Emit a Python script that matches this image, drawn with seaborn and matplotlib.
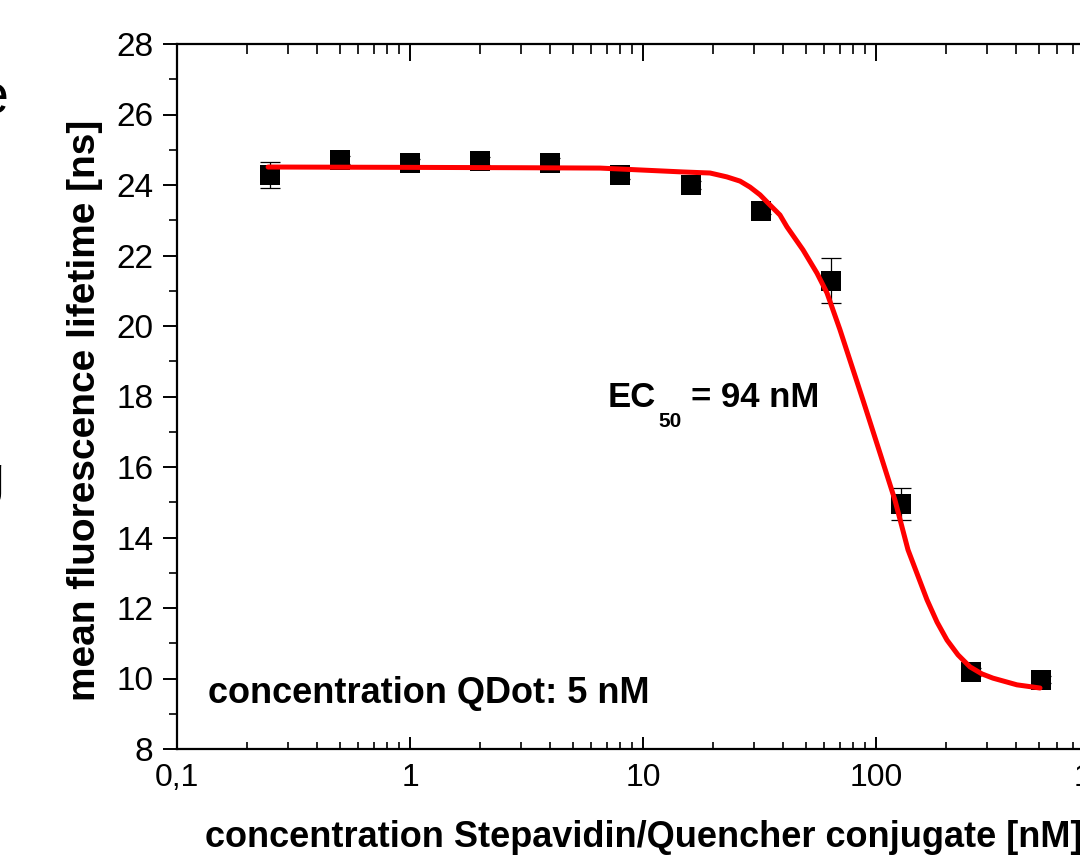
import numpy as np
import pandas as pd
import matplotlib
matplotlib.use("Agg")
import matplotlib.pyplot as plt
import seaborn as sns
from matplotlib.ticker import FixedLocator, FixedFormatter, LogLocator, NullFormatter, MultipleLocator

# measured points (concentration in nM, lifetime in ns)
conc = [0.25, 0.5, 1, 2, 4, 8, 16, 32, 64, 128, 256, 512]
lifetime = [24.28, 24.71, 24.63, 24.68, 24.61, 24.28, 24.0, 23.27, 21.28, 14.96, 10.19, 9.96]
lifetime_err = [0.37, 0.12, 0.12, 0.12, 0.15, 0.12, 0.1, 0.1, 0.64, 0.45, 0.12, 0.1]

# fitted curve
fit_conc = [0.246, 1.0, 3.0, 6.54, 14.85, 19.4, 22.9, 26.1, 28.8, 31.8, 35.1, 38.7, 41.5,
            48.6, 55.8, 61.6, 70.0, 87.9, 105.0, 120.6, 137.2, 165.6, 182.8, 201.7,
            224.9, 253.2, 285.0, 317.7, 402.7, 505.8]
fit_life = [24.51, 24.5, 24.49, 24.48, 24.37, 24.34, 24.23, 24.11, 23.94, 23.72, 23.43,
            23.15, 22.81, 22.16, 21.50, 20.94, 19.9, 17.90, 16.31, 15.06, 13.65, 12.23,
            11.60, 11.09, 10.67, 10.33, 10.13, 10.01, 9.82, 9.73]

x_ticks = [0.1, 1, 10, 100, 1000]
x_ticklabels = ["0,1", "1", "10", "100", "1000"]
y_ticks = [8, 10, 12, 14, 16, 18, 20, 22, 24, 26, 28]

pts = pd.DataFrame({"conc": conc, "lifetime": lifetime})
fit = pd.DataFrame({"conc": fit_conc, "lifetime": fit_life})

sns.set_theme(style="ticks")
plt.rcParams["font.family"] = ["Liberation Sans", "DejaVu Sans"]
for key in ["text.color", "axes.labelcolor", "xtick.color", "ytick.color", "axes.edgecolor"]:
    plt.rcParams[key] = "black"

fig = plt.figure(figsize=(10.8, 8.58), dpi=100)
ax = fig.add_axes([177 / 1080, 109 / 858, 932 / 1080, 705 / 858])

ax.errorbar(conc, lifetime, yerr=lifetime_err, fmt="none", ecolor="black",
            elinewidth=0.9, capsize=7.5, capthick=0.9, zorder=2)
sns.scatterplot(data=pts, x="conc", y="lifetime", marker="s", s=205, color="black",
                edgecolor="black", linewidth=0, ax=ax, zorder=3)
sns.lineplot(data=fit, x="conc", y="lifetime", color="#ff0000", linewidth=3.6,
             sort=False, estimator=None, ax=ax, zorder=4)

ax.set_xscale("log")
ax.set_xlim(0.1, 1000)
ax.set_ylim(8, 28)

ax.xaxis.set_major_locator(FixedLocator(x_ticks))
ax.xaxis.set_major_formatter(FixedFormatter(x_ticklabels))
ax.xaxis.set_minor_locator(LogLocator(base=10, subs=np.arange(2, 10)))
ax.xaxis.set_minor_formatter(NullFormatter())
ax.yaxis.set_major_locator(FixedLocator(y_ticks))
ax.yaxis.set_minor_locator(MultipleLocator(1))

for s in ["left", "bottom", "top", "right"]:
    ax.spines[s].set_linewidth(1.6)

ax.tick_params(axis="y", which="major", direction="out", length=10, width=1.4,
               labelsize=24, pad=7)
ax.tick_params(axis="y", which="minor", direction="out", length=6, width=1.2)
ax.tick_params(axis="x", which="major", direction="in", length=9, width=1.4,
               labelsize=23, pad=10)
ax.tick_params(axis="x", which="minor", direction="in", length=5, width=1.2)

# top axis carries its own, longer inward ticks
top = ax.twiny()
top.set_xscale("log")
top.set_xlim(ax.get_xlim())
top.xaxis.set_major_locator(FixedLocator(x_ticks))
top.xaxis.set_minor_locator(LogLocator(base=10, subs=np.arange(2, 10)))
top.xaxis.set_major_formatter(NullFormatter())
top.xaxis.set_minor_formatter(NullFormatter())
top.tick_params(axis="x", which="major", direction="in", length=12.5, width=1.4)
top.tick_params(axis="x", which="minor", direction="in", length=7.5, width=1.2)
for s in top.spines.values():
    s.set_visible(False)

ax.set_xlabel("concentration Stepavidin/Quencher conjugate [nM]", fontsize=26,
              fontweight="bold")
ax.xaxis.set_label_coords(28 / 932, -0.101)
ax.xaxis.label.set_ha("left")
ax.set_ylabel("mean fluorescence lifetime [ns]", fontsize=28, fontweight="bold")
ax.yaxis.set_label_coords(-74 / 932, 0.481)

# annotations, placed by pixel position in the figure
W, H = 1080, 858
fig.text(208 / W, 1 - 703 / H, "concentration QDot: 5 nM", fontsize=26,
         fontweight="bold", va="baseline", ha="left")
fig.text(608 / W, 1 - 407 / H, "EC", fontsize=25, fontweight="bold",
         va="baseline", ha="left")
fig.text(658 / W, 1 - 427 / H, "50", fontsize=15, fontweight="bold",
         va="baseline", ha="left")
fig.text(691 / W, 1 - 407 / H, "= 94 nM", fontsize=25, fontweight="bold",
         va="baseline", ha="left")

# fragments of neighbouring panel text cut off at the left edge
fig.text(8 / W, 1 - 100 / H, "e", fontsize=40, ha="right", va="center")
fig.text(5 / W, 1 - 480 / H, "g", fontsize=40, ha="right", va="center")

ax.grid(False)
fig.savefig("out.png", dpi=100)
